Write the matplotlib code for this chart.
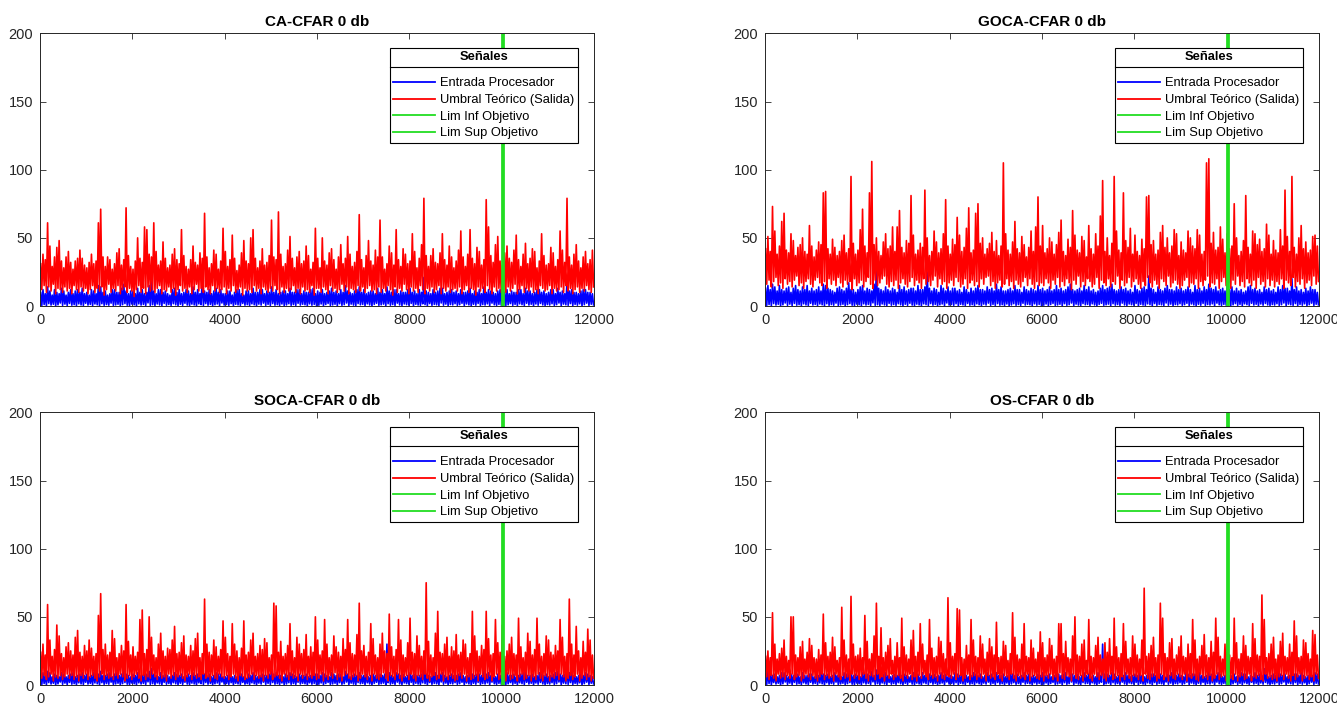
import numpy as np
import matplotlib
matplotlib.use('Agg')
import matplotlib.pyplot as plt
from matplotlib.lines import Line2D

plt.rcParams['font.family'] = ['Liberation Sans', 'DejaVu Sans']

# ---------------- data (one peak + one trough per 50-sample bin) ----
titles = ['CA-CFAR 0 db', 'GOCA-CFAR 0 db', 'SOCA-CFAR 0 db', 'OS-CFAR 0 db']
legend_labels = ['Entrada Procesador', 'Umbral Teórico (Salida)', 'Lim Inf Objetivo', 'Lim Sup Objetivo']
legend_title = 'Señales'
lim_inf_objetivo = 10000
lim_sup_objetivo = 10020
x_ticks = [0, 2000, 4000, 6000, 8000, 10000, 12000]
y_ticks = [0, 50, 100, 150, 200]
bin_size = 50

# shared trough values of the input signal
entrada_vl = [
    0.4, 1.1, 0.2, 1.8, 0.7, 1.3, 0.1, 0.9, 2.2, 0.5, 1.4, 0.3, 1.9, 0.6, 1.0, 0.2, 1.6, 0.8, 0.4, 2.0,
    0.7, 1.2, 0.3, 1.5, 0.9, 0.1, 1.7, 0.5, 1.1, 0.6, 2.1, 0.4, 0.8, 1.3, 0.2, 1.0, 1.8, 0.6, 0.3, 1.4,
    0.9, 0.1, 1.6, 0.7, 1.2, 0.4, 2.3, 0.5, 1.0, 0.3, 1.5, 0.8, 0.2, 1.9, 0.6, 1.1, 0.4, 1.7, 0.9, 0.2,
    1.3, 0.5, 2.0, 0.7, 0.3, 1.4, 0.8, 0.1, 1.6, 1.0, 0.4, 1.8, 0.6, 1.2, 0.2, 0.9, 1.5, 0.3, 2.2, 0.7,
    1.1, 0.5, 1.7, 0.2, 1.3, 0.8, 0.4, 1.9, 0.6, 1.0, 0.3, 1.6, 0.9, 0.1, 1.4, 0.7, 2.1, 0.5, 1.2, 0.4,
    1.8, 0.6, 1.0, 0.3, 1.5, 0.2, 0.8, 1.7, 0.5, 1.1, 0.4, 2.0, 0.7, 1.3, 0.9, 0.1, 1.6, 0.6, 1.2, 0.3,
    0.6, 1.5, 0.2, 1.1, 1.9, 0.4, 0.8, 1.3, 0.1, 1.7, 0.5, 1.0, 2.2, 0.3, 1.4, 0.7, 0.2, 1.8, 0.9, 1.2,
    0.3, 1.6, 0.8, 0.1, 1.2, 2.0, 0.5, 0.9, 1.4, 0.2, 1.7, 0.6, 1.1, 0.4, 2.1, 0.8, 0.3, 1.5, 1.0, 0.6,
    1.9, 0.2, 1.3, 0.7, 0.4, 1.6, 1.0, 0.1, 1.8, 0.5, 1.2, 0.9, 0.3, 2.2, 0.6, 1.4, 0.2, 1.1, 0.8, 1.7,
    0.5, 1.0, 2.0, 0.3, 1.5, 0.8, 0.1, 1.3, 0.6, 1.9, 0.4, 1.1, 0.7, 1.6, 0.2, 2.1, 0.9, 0.4, 1.2, 0.6,
    1.4, 0.3, 0.9, 1.8, 0.5, 1.2, 0.2, 1.6, 1.0, 0.4, 2.0, 0.7, 1.3, 0.1, 1.5, 0.6, 1.9, 0.8, 0.3, 1.1,
    0.7, 1.7, 0.4, 1.0, 2.2, 0.2, 1.4, 0.9, 0.5, 1.8, 0.3, 1.2, 0.6, 1.6, 0.1, 1.0, 2.1, 0.4, 1.3, 0.8]

# ---- CA-CFAR ----
ca_entrada_pk = [
    10, 12, 9, 14, 11, 8, 12, 10, 9, 13, 11, 8, 10, 12, 9, 11, 12, 10, 13, 9,
    10, 8, 12, 11, 9, 15, 14, 10, 11, 8, 9, 12, 12, 10, 10, 13, 16, 11, 9, 11,
    11, 9, 13, 10, 12, 9, 10, 15, 18, 11, 9, 12, 12, 10, 11, 9, 8, 12, 13, 10,
    12, 9, 10, 12, 11, 9, 14, 10, 12, 9, 21, 11, 10, 12, 9, 11, 13, 10, 12, 9,
    9, 11, 11, 8, 10, 12, 12, 9, 8, 11, 11, 9, 13, 10, 10, 12, 12, 9, 11, 10,
    14, 10, 12, 9, 10, 11, 11, 9, 13, 10, 10, 12, 12, 9, 11, 10, 10, 12, 13, 9,
    11, 10, 12, 9, 10, 11, 13, 10, 11, 9, 12, 10, 15, 11, 10, 9, 11, 12, 14, 10,
    12, 9, 10, 11, 11, 9, 13, 10, 12, 9, 14, 11, 10, 12, 12, 9, 11, 10, 10, 12,
    13, 10, 11, 9, 12, 10, 21, 11, 10, 9, 12, 10, 11, 13, 13, 9, 10, 11, 12, 10,
    11, 9, 12, 10, 10, 11, 13, 9, 11, 10, 12, 9, 14, 10, 12, 11, 10, 9, 11, 12,
    13, 10, 12, 9, 11, 10, 10, 12, 12, 9, 13, 11, 11, 9, 10, 12, 12, 10, 11, 9,
    10, 12, 12, 9, 13, 10, 11, 9, 18, 11, 12, 10, 10, 9, 11, 12, 12, 10, 10, 9]
ca_umbral_pk = [
    31, 38, 34, 61, 44, 29, 36, 43, 48, 33, 28, 36, 40, 32, 27, 33, 35, 41, 35, 30,
    28, 32, 38, 31, 33, 61, 71, 36, 29, 36, 34, 27, 31, 39, 42, 30, 34, 72, 37, 29,
    27, 33, 50, 35, 32, 58, 56, 38, 36, 61, 40, 30, 33, 47, 35, 28, 30, 38, 42, 34,
    31, 56, 37, 29, 27, 34, 44, 32, 30, 39, 35, 68, 36, 28, 31, 41, 38, 27, 33, 57,
    40, 29, 34, 52, 35, 26, 30, 39, 48, 33, 31, 50, 56, 35, 28, 33, 42, 30, 32, 37,
    63, 36, 34, 69, 38, 29, 31, 41, 51, 35, 28, 36, 40, 31, 33, 44, 37, 27, 32, 57,
    35, 28, 50, 33, 30, 39, 42, 34, 27, 36, 45, 31, 35, 51, 38, 29, 32, 40, 67, 34,
    28, 37, 48, 33, 30, 41, 36, 63, 36, 27, 31, 44, 39, 30, 56, 34, 29, 42, 38, 31,
    33, 53, 40, 28, 35, 45, 79, 37, 29, 37, 42, 32, 31, 39, 53, 34, 30, 44, 36, 28,
    33, 41, 55, 36, 29, 38, 56, 35, 31, 43, 40, 30, 34, 78, 58, 37, 32, 45, 51, 33,
    30, 39, 44, 35, 32, 41, 52, 34, 29, 38, 46, 31, 35, 42, 40, 28, 33, 53, 37, 30,
    31, 43, 39, 29, 34, 55, 41, 32, 79, 36, 30, 38, 45, 33, 28, 36, 40, 31, 34, 41]
ca_umbral_vl = [
    12, 15, 10, 14, 11, 16, 9, 13, 12, 10, 14, 11, 13, 9, 15, 12, 10, 14, 11, 13,
    9, 12, 15, 10, 13, 11, 14, 8, 12, 16, 10, 13, 11, 15, 9, 12, 14, 10, 13, 11,
    7, 12, 15, 10, 13, 9, 14, 11, 12, 10, 13, 15, 9, 12, 11, 14, 10, 13, 8, 12,
    15, 11, 13, 10, 14, 9, 12, 16, 11, 13, 10, 14, 12, 9, 15, 11, 13, 10, 12, 14,
    9, 13, 11, 15, 10, 12, 14, 8, 13, 11, 12, 10, 15, 11, 13, 9, 14, 12, 10, 13,
    11, 15, 12, 9, 14, 10, 13, 11, 12, 15, 10, 13, 9, 14, 11, 12, 10, 15, 8, 13,
    13, 10, 14, 12, 9, 15, 11, 13, 10, 12, 16, 11, 14, 9, 13, 12, 10, 15, 11, 14,
    10, 13, 15, 11, 12, 9, 14, 10, 13, 11, 15, 12, 8, 14, 10, 13, 11, 16, 12, 9,
    14, 11, 13, 10, 15, 12, 9, 13, 11, 14, 10, 12, 15, 9, 13, 11, 14, 10, 12, 13,
    11, 14, 9, 12, 15, 10, 13, 12, 8, 14, 11, 13, 10, 15, 12, 9, 14, 11, 13, 10,
    12, 10, 14, 11, 13, 16, 9, 12, 15, 10, 13, 11, 14, 10, 12, 9, 15, 13, 11, 12,
    15, 9, 13, 11, 12, 14, 10, 15, 11, 13, 9, 12, 14, 10, 13, 11, 15, 12, 10, 14]

# ---- GOCA-CFAR ----
goca_entrada_pk = [
    13, 15, 12, 16, 14, 11, 15, 12, 11, 13, 14, 10, 13, 15, 12, 11, 14, 12, 15, 11,
    13, 11, 12, 14, 11, 16, 15, 13, 12, 11, 10, 13, 14, 12, 11, 13, 17, 12, 12, 10,
    12, 14, 15, 11, 13, 12, 11, 16, 27, 13, 12, 11, 14, 12, 11, 13, 12, 10, 15, 12,
    14, 11, 12, 13, 13, 11, 15, 12, 12, 14, 25, 13, 11, 13, 12, 10, 15, 13, 11, 14,
    11, 13, 13, 11, 12, 10, 14, 12, 10, 13, 11, 13, 15, 12, 12, 11, 14, 12, 13, 11,
    16, 12, 14, 11, 11, 12, 13, 11, 15, 12, 12, 10, 14, 12, 11, 13, 12, 11, 15, 12,
    13, 11, 12, 14, 11, 12, 15, 12, 13, 11, 12, 14, 16, 12, 11, 12, 13, 11, 15, 12,
    14, 11, 12, 10, 11, 13, 15, 12, 13, 14, 16, 12, 11, 12, 14, 12, 13, 11, 12, 10,
    15, 12, 11, 13, 14, 12, 22, 13, 12, 10, 14, 12, 11, 13, 15, 12, 12, 11, 14, 12,
    13, 11, 12, 14, 12, 10, 15, 12, 13, 11, 14, 12, 16, 13, 12, 14, 11, 12, 13, 11,
    15, 12, 14, 11, 13, 11, 12, 10, 11, 14, 15, 12, 13, 11, 12, 10, 14, 12, 13, 11,
    12, 10, 14, 12, 15, 13, 13, 11, 20, 12, 14, 11, 12, 10, 13, 11, 14, 12, 12, 10]
goca_umbral_pk = [
    42, 51, 40, 73, 55, 38, 44, 62, 68, 41, 39, 53, 48, 37, 43, 45, 50, 40, 38, 59,
    44, 36, 41, 47, 45, 83, 84, 42, 38, 49, 43, 37, 40, 48, 52, 39, 42, 95, 46, 38,
    41, 56, 71, 44, 39, 83, 106, 45, 50, 40, 37, 47, 53, 42, 44, 58, 40, 58, 70, 43,
    39, 48, 46, 81, 52, 38, 41, 46, 43, 85, 50, 37, 40, 55, 47, 39, 42, 53, 78, 44,
    38, 49, 45, 65, 52, 40, 43, 57, 72, 39, 41, 68, 75, 46, 50, 38, 42, 46, 54, 40,
    48, 37, 44, 105, 53, 41, 38, 47, 62, 42, 39, 51, 45, 36, 43, 55, 40, 58, 80, 44,
    59, 39, 42, 50, 47, 38, 45, 54, 63, 40, 37, 49, 43, 70, 52, 41, 39, 51, 48, 36,
    59, 42, 38, 53, 44, 66, 92, 40, 50, 37, 46, 95, 55, 41, 39, 83, 48, 43, 57, 38,
    52, 40, 37, 49, 42, 80, 81, 45, 48, 38, 41, 54, 59, 43, 50, 39, 44, 56, 53, 37,
    47, 41, 39, 55, 50, 44, 42, 56, 52, 38, 40, 105, 108, 46, 54, 41, 43, 58, 49, 39,
    53, 42, 44, 75, 50, 37, 40, 48, 81, 43, 38, 55, 53, 45, 49, 40, 42, 60, 52, 38,
    48, 41, 39, 56, 44, 85, 51, 40, 95, 43, 38, 50, 59, 42, 47, 39, 41, 51, 52, 44]
goca_umbral_vl = [
    16, 19, 14, 18, 21, 15, 17, 13, 20, 16, 18, 14, 19, 22, 15, 17, 13, 18, 20, 16,
    14, 19, 21, 17, 15, 18, 13, 20, 16, 19, 15, 21, 17, 14, 19, 16, 18, 12, 20, 15,
    17, 19, 14, 18, 21, 16, 13, 19, 15, 17, 20, 22, 16, 14, 18, 15, 19, 13, 17, 20,
    16, 14, 18, 21, 15, 19, 17, 13, 20, 16, 18, 15, 19, 22, 14, 20, 16, 18, 13, 17,
    19, 15, 21, 18, 14, 16, 20, 13, 17, 19, 15, 18, 14, 20, 16, 21, 22, 15, 18, 13,
    17, 19, 14, 16, 20, 15, 18, 13, 19, 16, 14, 18, 21, 15, 20, 16, 13, 18, 15, 17,
    15, 20, 17, 13, 19, 16, 21, 14, 18, 15, 20, 17, 12, 19, 16, 22, 14, 18, 15, 20,
    18, 14, 16, 21, 13, 19, 17, 15, 20, 14, 18, 16, 22, 13, 19, 15, 17, 21, 14, 18,
    20, 16, 13, 18, 15, 21, 17, 14, 19, 16, 13, 20, 18, 15, 22, 14, 17, 19, 16, 13,
    15, 19, 21, 14, 17, 16, 20, 13, 18, 15, 19, 22, 14, 17, 16, 20, 13, 18, 21, 15,
    17, 13, 19, 16, 22, 15, 18, 14, 20, 17, 15, 19, 13, 21, 16, 18, 14, 20, 15, 19,
    14, 18, 16, 20, 13, 19, 17, 15, 21, 14, 18, 16, 20, 13, 17, 19, 15, 22, 16, 18]

# ---- SOCA-CFAR ----
soca_entrada_pk = [
    8, 9, 7, 10, 9, 6, 8, 7, 6, 9, 8, 6, 7, 8, 9, 6, 7, 8, 9, 7,
    8, 6, 7, 9, 11, 8, 10, 7, 7, 8, 9, 6, 8, 9, 7, 8, 12, 8, 7, 6,
    8, 7, 9, 7, 7, 8, 8, 10, 12, 8, 7, 6, 9, 7, 8, 7, 6, 7, 9, 8,
    7, 8, 6, 7, 8, 7, 9, 7, 8, 6, 13, 8, 7, 8, 6, 7, 9, 8, 8, 6,
    6, 7, 8, 6, 7, 6, 9, 8, 6, 5, 8, 7, 9, 7, 6, 7, 8, 7, 7, 8,
    10, 8, 9, 7, 7, 6, 8, 7, 9, 8, 7, 6, 8, 7, 7, 8, 6, 7, 9, 8,
    8, 7, 9, 8, 7, 6, 9, 8, 7, 8, 8, 6, 10, 8, 6, 7, 8, 7, 9, 7,
    7, 8, 6, 7, 8, 7, 9, 8, 7, 8, 30, 9, 7, 6, 9, 8, 7, 8, 6, 7,
    9, 7, 8, 7, 7, 8, 13, 8, 7, 6, 8, 9, 7, 8, 9, 7, 6, 7, 8, 7,
    7, 8, 9, 7, 6, 7, 9, 8, 7, 8, 8, 7, 10, 8, 9, 7, 7, 6, 8, 7,
    10, 8, 9, 7, 7, 8, 6, 7, 8, 9, 9, 7, 7, 8, 6, 7, 9, 8, 7, 8,
    6, 7, 8, 9, 10, 8, 7, 8, 12, 9, 9, 7, 6, 7, 8, 7, 9, 8, 7, 6]
soca_umbral_pk = [
    24, 30, 22, 59, 33, 21, 26, 44, 36, 23, 20, 28, 31, 25, 22, 35, 40, 24, 21, 29,
    25, 33, 27, 21, 23, 51, 67, 26, 30, 22, 24, 40, 34, 20, 23, 29, 25, 59, 32, 22,
    28, 21, 24, 48, 55, 23, 26, 50, 35, 22, 20, 30, 38, 25, 21, 27, 26, 33, 43, 23,
    24, 31, 36, 22, 21, 29, 25, 34, 38, 20, 23, 63, 30, 24, 22, 33, 28, 21, 26, 47,
    35, 23, 21, 45, 30, 25, 20, 27, 47, 22, 24, 33, 38, 21, 23, 29, 26, 34, 31, 20,
    22, 60, 58, 24, 32, 21, 23, 29, 45, 25, 20, 35, 30, 23, 26, 37, 21, 28, 24, 50,
    33, 22, 25, 48, 30, 20, 22, 36, 28, 24, 21, 34, 26, 48, 31, 23, 22, 37, 60, 25,
    29, 21, 24, 45, 34, 22, 20, 30, 38, 25, 23, 52, 28, 21, 26, 48, 33, 22, 20, 31,
    49, 24, 23, 36, 29, 21, 25, 75, 32, 22, 20, 38, 54, 24, 23, 30, 35, 21, 28, 25,
    37, 22, 24, 33, 30, 20, 23, 54, 36, 25, 21, 29, 26, 54, 34, 22, 23, 48, 31, 24,
    44, 21, 25, 30, 35, 23, 22, 49, 28, 20, 24, 38, 32, 22, 26, 49, 30, 21, 23, 36,
    33, 24, 22, 29, 25, 48, 35, 21, 23, 63, 30, 22, 43, 25, 20, 32, 24, 41, 33, 22]
soca_umbral_vl = [
    5, 7, 4, 6, 8, 3, 6, 5, 7, 4, 6, 8, 5, 7, 4, 6, 3, 7, 5, 8,
    4, 6, 7, 5, 3, 6, 8, 4, 7, 5, 6, 4, 7, 5, 8, 6, 3, 5, 7, 4,
    6, 8, 5, 3, 7, 4, 6, 5, 8, 6, 4, 7, 5, 6, 3, 8, 5, 7, 4, 6,
    7, 5, 3, 6, 8, 4, 7, 5, 6, 4, 8, 5, 6, 3, 7, 5, 4, 8, 6, 5,
    7, 4, 6, 8, 5, 3, 7, 6, 4, 5, 6, 8, 4, 7, 5, 6, 3, 7, 5, 8,
    4, 6, 7, 5, 3, 8, 6, 4, 7, 5, 6, 3, 8, 5, 7, 4, 6, 5, 7, 4,
    5, 8, 3, 6, 4, 7, 5, 9, 4, 6, 3, 7, 8, 5, 4, 6, 7, 3, 5, 8,
    6, 4, 7, 3, 8, 5, 4, 6, 9, 5, 3, 7, 6, 4, 8, 5, 3, 6, 7, 4,
    8, 5, 3, 7, 6, 4, 8, 5, 3, 6, 7, 4, 5, 8, 3, 6, 4, 7, 5, 3,
    4, 7, 5, 8, 3, 6, 4, 5, 7, 3, 8, 6, 4, 5, 7, 3, 6, 8, 4, 5,
    6, 3, 8, 4, 5, 7, 3, 6, 8, 4, 5, 7, 3, 6, 4, 8, 5, 3, 7, 6,
    3, 6, 5, 7, 4, 8, 6, 3, 5, 7, 4, 6, 8, 3, 5, 7, 4, 6, 3, 5]

# ---- OS-CFAR ----
os_entrada_pk = [
    8, 10, 9, 7, 8, 6, 7, 9, 9, 7, 6, 8, 7, 9, 8, 6, 9, 7, 7, 8,
    8, 6, 9, 7, 10, 8, 7, 8, 6, 7, 9, 7, 8, 6, 9, 8, 11, 8, 7, 8,
    7, 6, 9, 8, 8, 7, 10, 7, 11, 8, 7, 8, 9, 7, 6, 7, 8, 7, 9, 7,
    8, 7, 6, 7, 9, 7, 8, 6, 9, 7, 14, 8, 7, 8, 6, 7, 9, 7, 8, 6,
    7, 6, 9, 8, 7, 8, 8, 7, 6, 7, 9, 8, 7, 8, 6, 7, 9, 7, 8, 6,
    9, 7, 7, 8, 6, 7, 9, 8, 7, 8, 6, 7, 9, 7, 8, 6, 7, 6, 8, 7,
    9, 7, 7, 8, 6, 7, 9, 8, 7, 8, 9, 6, 10, 8, 7, 8, 6, 7, 9, 7,
    8, 6, 7, 6, 9, 7, 30, 8, 8, 7, 9, 8, 6, 7, 8, 7, 9, 7, 6, 7,
    8, 7, 9, 7, 6, 7, 12, 8, 8, 7, 9, 8, 7, 6, 8, 7, 9, 8, 7, 8,
    7, 6, 9, 8, 7, 8, 8, 7, 9, 7, 6, 7, 10, 8, 8, 7, 9, 8, 6, 7,
    9, 7, 7, 8, 6, 7, 9, 8, 8, 6, 7, 6, 9, 7, 8, 7, 12, 8, 6, 7,
    8, 7, 9, 8, 7, 8, 6, 7, 10, 8, 8, 7, 9, 7, 6, 7, 8, 7, 9, 8]
os_umbral_pk = [
    21, 25, 20, 53, 30, 19, 23, 27, 33, 21, 18, 50, 50, 22, 20, 28, 32, 19, 24, 34,
    29, 20, 19, 26, 22, 52, 31, 21, 24, 35, 28, 18, 20, 57, 33, 22, 19, 65, 30, 21,
    22, 27, 20, 51, 32, 19, 23, 36, 60, 21, 42, 20, 24, 29, 34, 18, 21, 31, 20, 49,
    28, 22, 19, 33, 40, 21, 24, 45, 30, 18, 22, 48, 27, 20, 21, 35, 32, 23, 19, 64,
    31, 21, 23, 56, 55, 20, 19, 29, 22, 48, 33, 21, 20, 36, 30, 19, 24, 34, 28, 22,
    46, 20, 21, 32, 29, 18, 23, 53, 35, 22, 19, 30, 45, 21, 20, 33, 27, 19, 24, 39,
    31, 20, 22, 34, 29, 19, 21, 45, 45, 23, 32, 20, 19, 36, 50, 22, 21, 30, 33, 18,
    48, 21, 20, 29, 35, 22, 19, 31, 24, 34, 21, 49, 28, 20, 23, 45, 32, 19, 20, 36,
    30, 22, 19, 33, 71, 21, 23, 29, 35, 20, 22, 60, 49, 23, 20, 31, 34, 19, 22, 28,
    36, 21, 20, 30, 23, 48, 33, 19, 21, 29, 37, 22, 20, 32, 24, 49, 35, 21, 19, 30,
    33, 22, 20, 49, 31, 19, 23, 36, 29, 21, 20, 45, 34, 22, 21, 66, 48, 20, 23, 30,
    35, 19, 22, 32, 38, 21, 20, 30, 24, 47, 36, 20, 21, 33, 31, 23, 19, 40, 37, 22]
os_umbral_vl = [
    6, 4, 7, 5, 3, 8, 5, 6, 4, 7, 5, 8, 4, 6, 7, 3, 5, 8, 6, 4,
    7, 5, 3, 6, 8, 4, 7, 5, 6, 3, 8, 6, 4, 7, 5, 6, 3, 8, 5, 7,
    4, 6, 8, 5, 3, 7, 6, 4, 8, 5, 6, 3, 7, 5, 8, 4, 6, 7, 5, 3,
    7, 5, 8, 4, 6, 3, 7, 5, 8, 6, 4, 7, 5, 6, 3, 8, 5, 4, 7, 6,
    5, 8, 4, 6, 7, 3, 5, 8, 4, 6, 7, 4, 6, 5, 8, 3, 7, 5, 6, 4,
    8, 5, 3, 7, 6, 4, 8, 5, 3, 7, 5, 6, 4, 8, 3, 6, 7, 5, 4, 6,
    3, 7, 5, 8, 4, 6, 3, 9, 5, 4, 7, 6, 3, 8, 5, 4, 7, 3, 6, 8,
    5, 3, 8, 6, 4, 7, 5, 3, 6, 8, 4, 5, 7, 3, 6, 4, 8, 5, 3, 7,
    6, 4, 7, 3, 8, 5, 4, 6, 7, 3, 5, 8, 4, 6, 3, 7, 5, 4, 8, 6,
    4, 8, 3, 6, 5, 7, 4, 3, 8, 5, 6, 4, 7, 3, 5, 8, 4, 6, 7, 3,
    7, 5, 4, 8, 3, 6, 7, 4, 5, 8, 3, 6, 5, 7, 4, 3, 8, 5, 6, 4,
    5, 3, 6, 7, 4, 8, 5, 3, 7, 4, 6, 8, 3, 5, 7, 4, 6, 3, 8, 5]

panels = [
    (ca_entrada_pk, ca_umbral_pk, ca_umbral_vl),
    (goca_entrada_pk, goca_umbral_pk, goca_umbral_vl),
    (soca_entrada_pk, soca_umbral_pk, soca_umbral_vl),
    (os_entrada_pk, os_umbral_pk, os_umbral_vl),
]

# ---------------- styling ----------------
BLUE = '#0000ff'
RED = '#ff0000'
GREEN = '#22dd22'
AX_COLOR = '#262626'

fig = plt.figure(figsize=(13.37, 7.10), dpi=100)
positions = [
    [0.0300, 0.5690, 0.4144, 0.3840],
    [0.5722, 0.5690, 0.4144, 0.3840],
    [0.0300, 0.0352, 0.4144, 0.3840],
    [0.5722, 0.0352, 0.4144, 0.3840],
]


def interleave(pk, vl):
    out = np.empty(2 * len(pk))
    out[0::2] = pk
    out[1::2] = vl
    return out


axes = []
for pos, title, (e_pk, u_pk, u_vl) in zip(positions, titles, panels):
    ax = fig.add_axes(pos)
    axes.append(ax)
    n = len(u_pk)
    xb = np.arange(n) * bin_size
    x = np.empty(2 * n)
    x[0::2] = xb + 12
    x[1::2] = xb + 37
    ax.plot(x, interleave(e_pk, entrada_vl), color=BLUE, lw=1.2)
    ax.plot(x, interleave(u_pk, u_vl), color=RED, lw=1.2)
    ax.plot([lim_inf_objetivo, lim_inf_objetivo], [0, 200], color=GREEN, lw=2.0)
    ax.plot([lim_sup_objetivo, lim_sup_objetivo], [0, 200], color=GREEN, lw=2.0)
    ax.set_xlim(0, 12000)
    ax.set_ylim(0, 200)
    ax.set_xticks(x_ticks)
    ax.set_yticks(y_ticks)
    ax.tick_params(direction='in', top=True, right=True, length=4, width=0.6,
                   labelsize=10.5, colors=AX_COLOR, pad=5)
    for s in ax.spines.values():
        s.set_color(AX_COLOR)
        s.set_linewidth(0.7)
    ax.set_title(title, fontsize=11, fontweight='bold', color='black', pad=5)

    handles = [Line2D([], [], color=BLUE, lw=1.3),
               Line2D([], [], color=RED, lw=1.3),
               Line2D([], [], color=GREEN, lw=1.3),
               Line2D([], [], color=GREEN, lw=1.3)]
    leg = ax.legend(handles, legend_labels, title=legend_title, loc='upper right',
                    bbox_to_anchor=(0.971, 0.948), fontsize=9.3, title_fontsize=9.3,
                    frameon=True, fancybox=False, framealpha=1, edgecolor='black',
                    handlelength=3.2, handletextpad=0.4, labelspacing=0.36,
                    borderpad=0.3, borderaxespad=0)
    leg.get_frame().set_linewidth(0.8)
    leg.get_title().set_fontweight('bold')
    leg._legend_box.sep = 10

fig.canvas.draw()
renderer = fig.canvas.get_renderer()
for ax in axes:
    leg = ax.get_legend()
    lb = leg.get_window_extent(renderer)
    tb = leg.get_title().get_window_extent(renderer)
    ysep = tb.y0 - 4
    line = Line2D([lb.x0, lb.x1], [ysep, ysep], color='black', lw=0.8,
                  transform=None)
    fig.add_artist(line)

fig.savefig('out.png', dpi=100)
